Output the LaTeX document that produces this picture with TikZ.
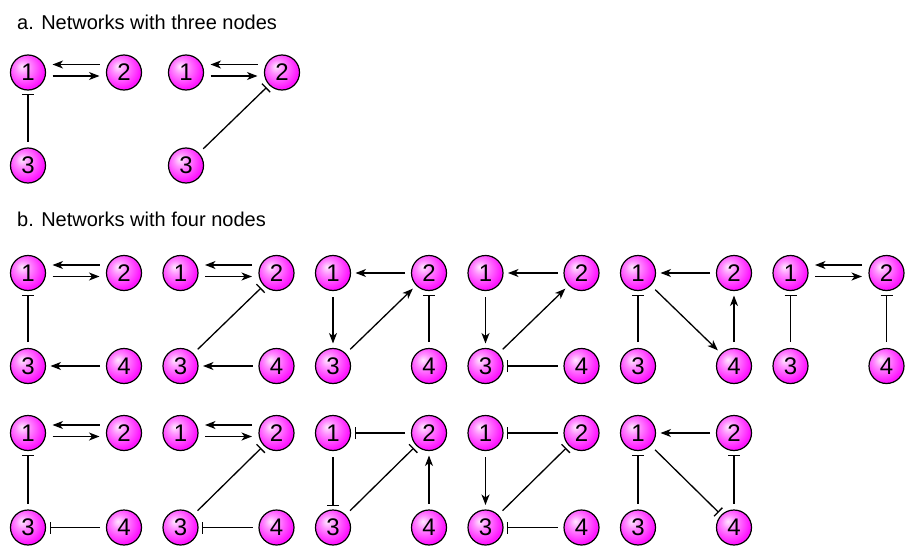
\documentclass[tikz,border=0pt]{standalone}
\usepackage{fontspec}
\setmainfont{Liberation Sans}
\usetikzlibrary{arrows.meta}
\pgfdeclareradialshading{magball}{\pgfqpoint{-9bp}{9bp}}{%
  color(0bp)=(magenta!10!white);
  color(10bp)=(magenta!45!white);
  color(28bp)=(magenta!92!white);
  color(46bp)=(magenta!88!black);
  color(64bp)=(magenta!70!black)}
\tikzset{
  gnode/.style={circle, draw=black, line width=1.2pt, minimum size=35pt,
    inner sep=0pt, outer sep=0pt, shading=magball,
    font=\fontsize{24}{24}\selectfont},
  act/.style={-{Stealth[length=10.5pt,width=8pt,inset=3pt]}, line width=1.3pt,
    shorten <=6.5pt, shorten >=5pt},
  inh/.style={-{Bar[width=12pt,line width=1.3pt]}, line width=1.3pt,
    shorten <=6.5pt, shorten >=4pt},
  pairact/.style={-{Stealth[length=10.5pt,width=8pt,inset=3pt]}, line width=1.3pt,
    shorten <=7pt, shorten >=7pt},
  title/.style={anchor=base west, inner sep=0pt, font=\fontsize{20}{24}\selectfont}
}
\newcommand{\threenet}[3]{%
  \node[gnode] (#1n1) at (#2,#3) {1};
  \node[gnode] (#1n2) at ({#2+96},#3) {2};
  \node[gnode] (#1n3) at (#2,{#3+93}) {3};
}
\newcommand{\fournet}[4]{%
  \node[gnode] (#1n1) at (#2,#3) {1};
  \node[gnode] (#1n2) at ({#2+96},#3) {2};
  \node[gnode] (#1n3) at (#2,#4) {3};
  \node[gnode] (#1n4) at ({#2+96},#4) {4};
}
\newcommand{\pairarrows}[1]{%
  \draw[pairact] ([yshift=8pt]#1n2.west) -- ([yshift=8pt]#1n1.east);
  \draw[pairact] ([yshift=-3.5pt]#1n1.east) -- ([yshift=-3.5pt]#1n2.west);
}
\begin{document}
\begin{tikzpicture}[x=1pt,y=-1pt]
\useasboundingbox (0,0) rectangle (906,546);
\node[title] (ta) at (17,30) {a. Networks with three nodes};
\node[title] (tb) at (17,226) {b. Networks with four nodes};
% panel a
\threenet{a1}{28}{72.5}
\pairarrows{a1}
\draw[inh] (a1n3) -- (a1n1);
\threenet{a2}{186}{72.5}
\pairarrows{a2}
\draw[inh] (a2n3) -- (a2n2);
% row 1
\fournet{b1}{28}{273}{366}
\pairarrows{b1}
\draw[inh] (b1n3) -- (b1n1);
\draw[act] (b1n4) -- (b1n3);
\fournet{b2}{180.5}{273}{366}
\pairarrows{b2}
\draw[inh] (b2n3) -- (b2n2);
\draw[act] (b2n4) -- (b2n3);
\fournet{b3}{333}{273}{366}
\draw[act] (b3n2) -- (b3n1);
\draw[act] (b3n1) -- (b3n3);
\draw[act] (b3n3) -- (b3n2);
\draw[inh] (b3n4) -- (b3n2);
\fournet{b4}{485.5}{273}{366}
\draw[act] (b4n2) -- (b4n1);
\draw[act] (b4n1) -- (b4n3);
\draw[act] (b4n3) -- (b4n2);
\draw[inh] (b4n4) -- (b4n3);
\fournet{b5}{638}{273}{366}
\draw[act] (b5n2) -- (b5n1);
\draw[inh] (b5n3) -- (b5n1);
\draw[act] (b5n1) -- (b5n4);
\draw[act] (b5n4) -- (b5n2);
\fournet{b6}{790.5}{273}{366}
\pairarrows{b6}
\draw[inh] (b6n3) -- (b6n1);
\draw[inh] (b6n4) -- (b6n2);
% row 2
\fournet{c1}{28}{433}{527.5}
\pairarrows{c1}
\draw[inh] (c1n3) -- (c1n1);
\draw[inh] (c1n4) -- (c1n3);
\fournet{c2}{180.5}{433}{527.5}
\pairarrows{c2}
\draw[inh] (c2n3) -- (c2n2);
\draw[inh] (c2n4) -- (c2n3);
\fournet{c3}{333}{433}{527.5}
\draw[inh] (c3n2) -- (c3n1);
\draw[inh] (c3n1) -- (c3n3);
\draw[inh] (c3n3) -- (c3n2);
\draw[act] (c3n4) -- (c3n2);
\fournet{c4}{485.5}{433}{527.5}
\draw[inh] (c4n2) -- (c4n1);
\draw[act] (c4n1) -- (c4n3);
\draw[inh] (c4n3) -- (c4n2);
\draw[inh] (c4n4) -- (c4n3);
\fournet{c5}{638}{433}{527.5}
\draw[act] (c5n2) -- (c5n1);
\draw[inh] (c5n3) -- (c5n1);
\draw[inh] (c5n1) -- (c5n4);
\draw[inh] (c5n4) -- (c5n2);
\end{tikzpicture}
\end{document}
